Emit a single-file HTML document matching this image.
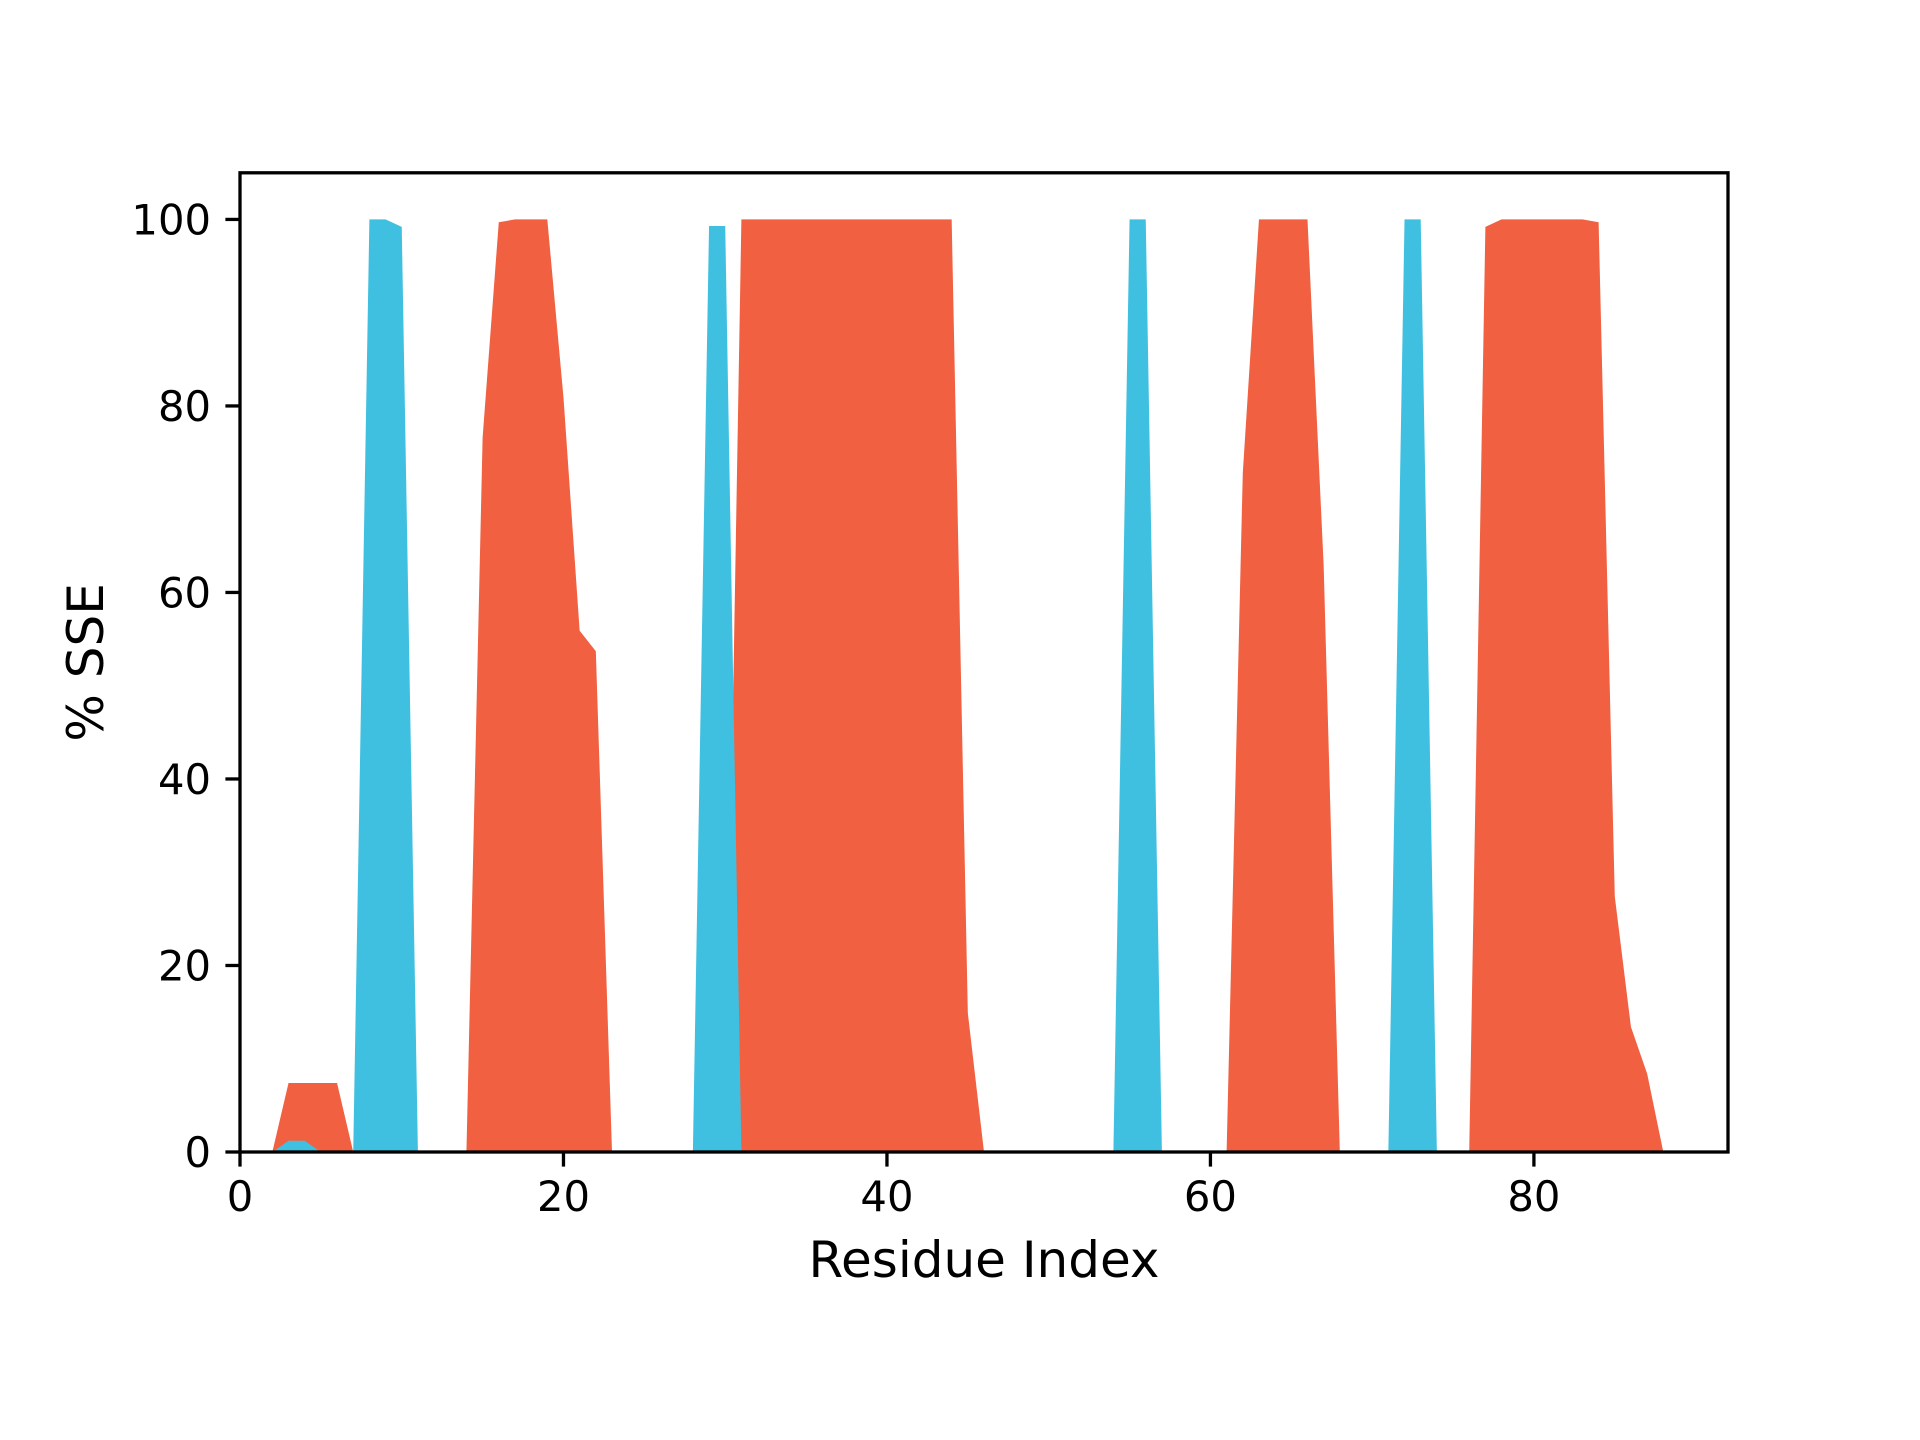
<!DOCTYPE html>
<html><head><meta charset="utf-8"><style>
html,body{margin:0;padding:0;background:#fff}
svg{display:block}
text{font-family:"DejaVu Sans","Liberation Sans",sans-serif;fill:#000}
</style></head><body>
<svg id="chart" width="1920" height="1440" viewBox="0 0 1920 1440" xmlns="http://www.w3.org/2000/svg">
<rect x="0" y="0" width="1920" height="1440" fill="#fff"/>
<g id="marks"></g>
<g id="axes"></g>
</svg>
<script>
const residues = [];
for (let i = 1; i <= 90; i++) residues.push(i);
const helixValues = [0,0,7.4,7.4,7.4,7.4,0,0,0,0, 0,0,0,0,76.6,99.7,100,100,100,80.9, 55.9,53.7,0,0,0,0,0,0,0,0, 100,100,100,100,100,100,100,100,100,100, 100,100,100,100,14.9,0,0,0,0,0, 0,0,0,0,0,0,0,0,0,0, 0,72.8,100,100,100,100,62.9,0,0,0, 0,0,0,0,0,0,99.2,100,100,100, 100,100,100,99.7,27.4,13.4,8.4,0,0,0];
const strandValues = [0,0,1.2,1.2,0,0,0,100,100,99.2, 0,0,0,0,0,0,0,0,0,0, 0,0,0,0,0,0,0,0,99.3,99.3, 0,0,0,0,0,0,0,0,0,0, 0,0,0,0,0,0,0,0,0,0, 0,0,0,0,100,100,0,0,0,0, 0,0,0,0,0,0,0,0,0,0, 0,100,100,0,0,0,0,0,0,0, 0,0,0,0,0,0,0,0,0,0];
const xTicks = [0,20,40,60,80];
const yTicks = [0,20,40,60,80,100];
const xLabel = "Residue Index";
const yLabel = "% SSE";

const NS = "http://www.w3.org/2000/svg";
const L = 240, R = 1728, T = 172.8, B = 1152;
const xMin = 0, xMax = 92, yMin = 0, yMax = 105;
const xs = v => L + (v - xMin) / (xMax - xMin) * (R - L);
const ys = v => B - (v - yMin) / (yMax - yMin) * (B - T);
function mk(tag, attrs, parent) {
  const e = document.createElementNS(NS, tag);
  for (const k in attrs) e.setAttribute(k, attrs[k]);
  parent.appendChild(e);
  return e;
}
const marks = document.getElementById('marks');
const axes = document.getElementById('axes');

function area(vals, color, name) {
  let d = 'M' + xs(residues[0]) + ',' + ys(0);
  for (let i = 0; i < residues.length; i++) d += ' L' + xs(residues[i]) + ',' + ys(vals[i]);
  d += ' L' + xs(residues[residues.length - 1]) + ',' + ys(0) + ' Z';
  const p = mk('path', {d: d, fill: color, stroke: 'none'}, marks);
  
  
}
area(helixValues, '#f06041', 'helix-area');
area(strandValues, '#40c0e0', 'strand-area');

const frame = mk('rect', {x: L, y: T, width: R - L, height: B - T, fill: 'none', stroke: '#000', 'stroke-width': 3.3}, axes);



xTicks.forEach(t => {
  const x = xs(t);
  const tk = mk('line', {x1: x, x2: x, y1: B, y2: B + 14.6, stroke: '#000', 'stroke-width': 3.3}, axes);
  
  
  const tx = mk('text', {x: x, y: B + 59, 'font-size': 41.7, 'text-anchor': 'middle'}, axes);
  tx.textContent = t;
  
  
});
yTicks.forEach(t => {
  const y = ys(t);
  const tk = mk('line', {x1: L - 14.6, x2: L, y1: y, y2: y, stroke: '#000', 'stroke-width': 3.3}, axes);
  
  
  const tx = mk('text', {x: L - 29, y: y + 15, 'font-size': 41.7, 'text-anchor': 'end'}, axes);
  tx.textContent = t;
  
  
});
const xl = mk('text', {x: (L + R) / 2, y: 1277, 'font-size': 50, 'text-anchor': 'middle'}, axes);
xl.textContent = xLabel;


const yl = mk('text', {x: 0, y: 0, 'font-size': 50, 'text-anchor': 'middle', transform: 'translate(103,' + ((T + B) / 2) + ') rotate(-90)'}, axes);
yl.textContent = yLabel;


</script>
</body></html>
